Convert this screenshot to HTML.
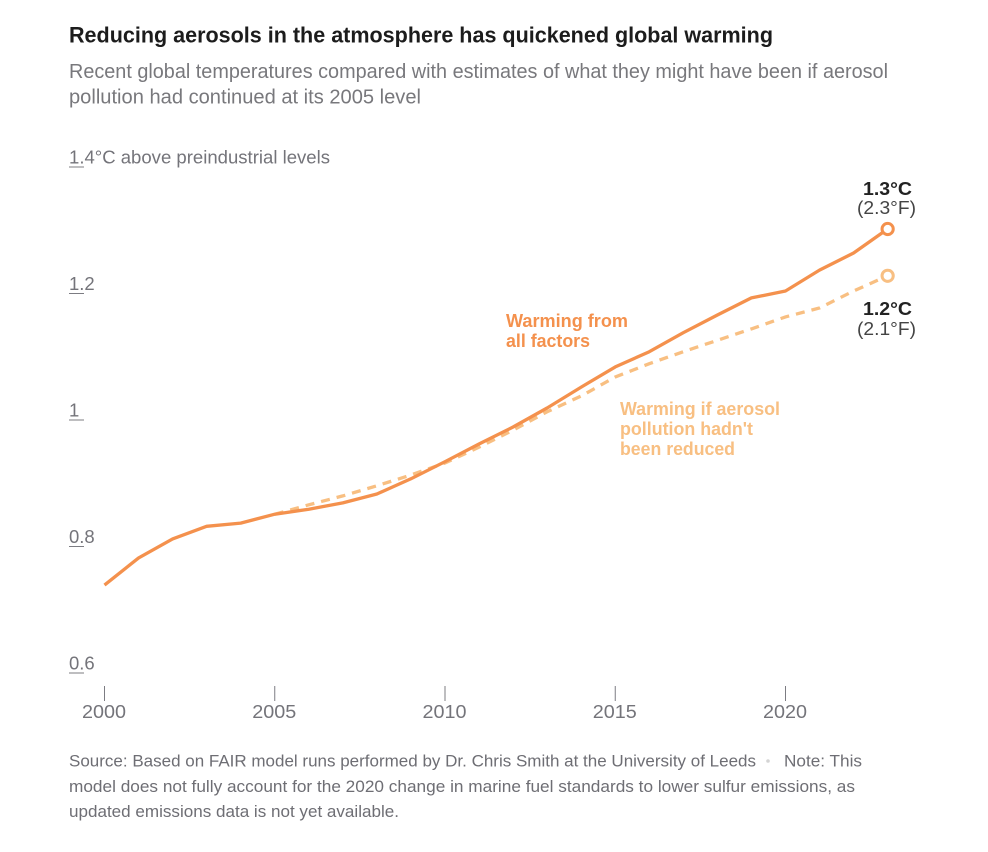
<!DOCTYPE html>
<html lang="en">
<head>
<meta charset="utf-8">
<title>Reducing aerosols in the atmosphere has quickened global warming</title>
<style>
html,body{margin:0;padding:0;background:#fff;width:988px;height:852px;overflow:hidden}
svg{display:block;font-family:"Liberation Sans",Arial,sans-serif}
.sub{font-size:20.5px;fill:#78787c}
.note{font-size:17px;fill:#6e6e74}
.tick{font-size:18.5px;fill:#74747a}
.lab{font-size:18.5px;font-weight:bold}
.val{font-size:18.5px;font-weight:bold;fill:#222;text-anchor:middle}
.valf{font-size:18.5px;fill:#444;text-anchor:middle}
</style>
</head>
<body>
<svg id="chart" width="988" height="852" viewBox="0 0 988 852" xmlns="http://www.w3.org/2000/svg">
<text x="69" y="42.5" font-size="22.5" font-weight="bold" fill="#1c1c1c" textLength="704" lengthAdjust="spacingAndGlyphs">Reducing aerosols in the atmosphere has quickened global warming</text>
<text class="sub" x="69" y="78" textLength="819" lengthAdjust="spacingAndGlyphs">Recent global temperatures compared with estimates of what they might have been if aerosol</text>
<text class="sub" x="69" y="103.5" textLength="352" lengthAdjust="spacingAndGlyphs">pollution had continued at its 2005 level</text>

<g id="axes"></g>
<g id="series"></g>

<text class="lab" fill="#f4914d" x="506" y="327" textLength="122" lengthAdjust="spacingAndGlyphs">Warming from</text>
<text class="lab" fill="#f4914d" x="506" y="347" textLength="84" lengthAdjust="spacingAndGlyphs">all factors</text>
<text class="lab" fill="#f8bf82" x="620" y="415" textLength="160" lengthAdjust="spacingAndGlyphs">Warming if aerosol</text>
<text class="lab" fill="#f8bf82" x="620" y="435" textLength="133" lengthAdjust="spacingAndGlyphs">pollution hadn't</text>
<text class="lab" fill="#f8bf82" x="620" y="455" textLength="115" lengthAdjust="spacingAndGlyphs">been reduced</text>

<text class="val" x="887.5" y="195" textLength="49" lengthAdjust="spacingAndGlyphs">1.3°C</text>
<text class="valf" x="886.5" y="214" textLength="59" lengthAdjust="spacingAndGlyphs">(2.3°F)</text>
<text class="val" x="887.5" y="315" textLength="49" lengthAdjust="spacingAndGlyphs">1.2°C</text>
<text class="valf" x="886.5" y="335" textLength="59" lengthAdjust="spacingAndGlyphs">(2.1°F)</text>

<text class="note" x="69" y="766.5" textLength="687" lengthAdjust="spacingAndGlyphs">Source: Based on FAIR model runs performed by Dr. Chris Smith at the University of Leeds</text>
<circle cx="768" cy="761" r="1.8" fill="#d4d4d4"></circle>
<text class="note" x="784" y="766.5" textLength="78" lengthAdjust="spacingAndGlyphs">Note: This</text>
<text class="note" x="69" y="792" textLength="786" lengthAdjust="spacingAndGlyphs">model does not fully account for the 2020 change in marine fuel standards to lower sulfur emissions, as</text>
<text class="note" x="69" y="817" textLength="330" lengthAdjust="spacingAndGlyphs">updated emissions data is not yet available.</text>
</svg>
<script>
var years = [2000,2001,2002,2003,2004,2005,2006,2007,2008,2009,2010,2011,2012,2013,2014,2015,2016,2017,2018,2019,2020,2021,2022,2023];
var allFactors = [0.739,0.782,0.812,0.832,0.837,0.851,0.859,0.869,0.883,0.907,0.934,0.962,0.989,1.019,1.052,1.084,1.108,1.138,1.166,1.193,1.204,1.237,1.264,1.302];
var noReductionYears = [2005,2006,2007,2008,2009,2010,2011,2012,2013,2014,2015,2016,2017,2018,2019,2020,2021,2022,2023];
var noReduction = [0.851,0.866,0.880,0.896,0.913,0.932,0.957,0.984,1.013,1.038,1.068,1.089,1.108,1.126,1.144,1.163,1.177,1.204,1.228];
var xTicks = [2000,2005,2010,2015,2020];
var yTicks = [0.6,0.8,1,1.2,1.4];
var yTickLabels = ["0.6","0.8","1","1.2","1.4°C above preindustrial levels"];

var NS = "http://www.w3.org/2000/svg";
function xScale(year){ return 104.5 + (year - 2000) * 34.05; }
function yScale(v){ return 673 - (v - 0.6) * 632.5; }
function make(tag, parent, attrs){
  var el = document.createElementNS(NS, tag);
  for (var k in attrs) el.setAttribute(k, attrs[k]);
  parent.appendChild(el);
  return el;
}
function pathFrom(xs, vs){
  return xs.map(function(x, i){
    return (i ? "L" : "M") + xScale(x).toFixed(1) + " " + yScale(vs[i]).toFixed(1);
  }).join(" ");
}
var axes = document.getElementById("axes");
var series = document.getElementById("series");

yTicks.forEach(function(t, i){
  var y = yScale(t);
  var line = make("line", axes, {x1:69, x2:84, y1:y, y2:y, stroke:"#7c7c82", "stroke-width":1});
  
  
  var label = make("text", axes, {x:69, y:y - 3.5, "class":"tick"});
  
  
  label.textContent = yTickLabels[i];
  if (i === 4) {
    label.setAttribute("textLength", "261");
    label.setAttribute("lengthAdjust", "spacingAndGlyphs");
  }
});
xTicks.forEach(function(t){
  var x = xScale(t);
  var line = make("line", axes, {x1:x, x2:x, y1:686, y2:701, stroke:"#7c7c82", "stroke-width":1});
  
  
  var label = make("text", axes, {x:x - 0.5, y:718, "class":"tick", "text-anchor":"middle", textLength:"44", lengthAdjust:"spacingAndGlyphs"});
  
  
  label.textContent = t;
});

var dashed = make("path", series, {d:pathFrom(noReductionYears, noReduction), fill:"none", stroke:"#f8bf82", "stroke-width":3.3, "stroke-dasharray":"9 7"});


var solid = make("path", series, {d:pathFrom(years, allFactors), fill:"none", stroke:"#f4914d", "stroke-width":3.3, "stroke-linejoin":"round"});



var endB = make("circle", series, {cx:xScale(noReductionYears[noReductionYears.length-1]), cy:yScale(noReduction[noReduction.length-1]), r:5.6, fill:"#fff", stroke:"#f8bf82", "stroke-width":3});


var endA = make("circle", series, {cx:xScale(years[years.length-1]), cy:yScale(allFactors[allFactors.length-1]), r:5.6, fill:"#fff", stroke:"#f4914d", "stroke-width":3});


</script>
</body>
</html>
